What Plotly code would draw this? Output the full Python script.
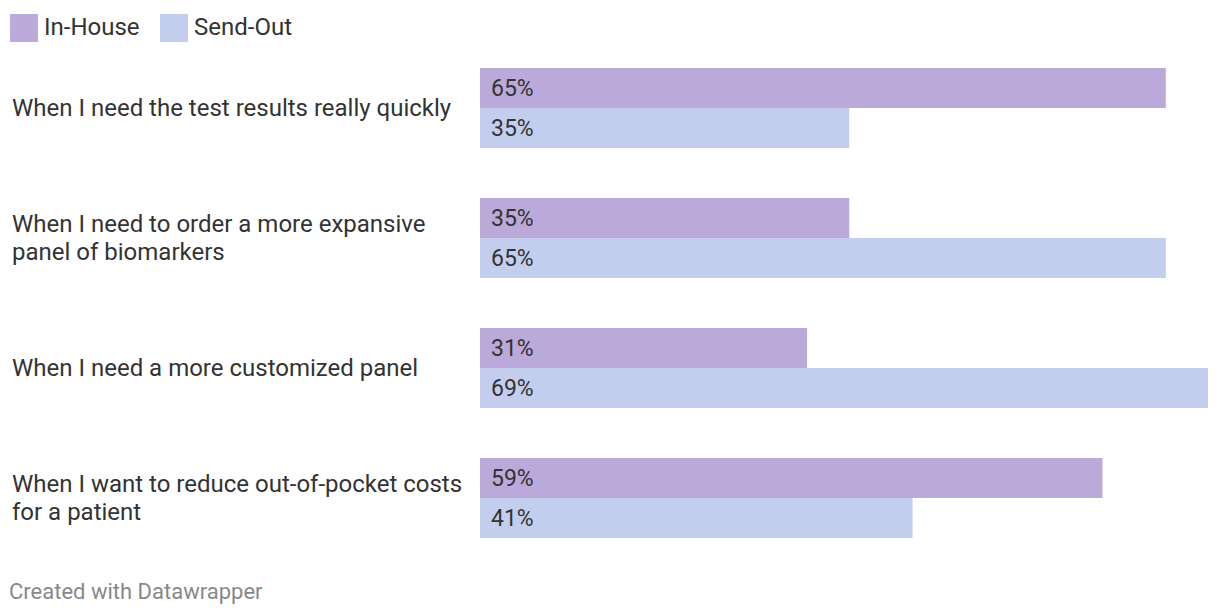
import plotly.graph_objects as go

categories = [
    "When I need the test results really quickly",
    "When I need to order a more expansive<br>panel of biomarkers",
    "When I need a more customized panel",
    "When I want to reduce out-of-pocket costs<br>for a patient",
]
in_house = [65, 35, 31, 59]
send_out = [35, 65, 69, 41]
series_names = ["In-House", "Send-Out"]
colors = ["#bba9d9", "#c3ceee"]

W, H = 1220, 616
L, R, T, B = 480, 12, 43, 53
FONT = "Roboto, sans-serif"
FS_LABEL = 24
FS_VAL = 23
FS_LEG = 24
LINE_H = 28

fig = go.Figure()
ys = list(range(len(categories)))
for name, vals, col in zip(series_names, [in_house, send_out], colors):
    fig.add_trace(go.Bar(
        y=ys, x=vals, name=name, orientation="h",
        marker=dict(color=col, line=dict(width=0)),
        showlegend=False, hoverinfo="skip",
    ))

pw = W - L - R
ph = H - T - B
def px(x):
    return (x - L) / pw
def py(y):
    return (H - B - y) / ph

annotations = []
for i, cat in enumerate(categories):
    lines = cat.split("<br>")
    n = len(lines)
    for j, line in enumerate(lines):
        shift = ((n - 1) / 2 - j) * LINE_H
        annotations.append(dict(
            x=px(10), xref="paper", y=i, yref="y", yshift=shift,
            text=line, showarrow=False, xanchor="left", yanchor="middle", align="left",
            font=dict(family=FONT, size=FS_LABEL, color="#333333"),
        ))
    for vals, shift in [(in_house, 20), (send_out, -20)]:
        annotations.append(dict(
            x=0, xref="x", y=i, yref="y", yshift=shift,
            text=f"{vals[i]}%", showarrow=False, xanchor="left", yanchor="middle",
            xshift=9, font=dict(family=FONT, size=FS_VAL, color="#333333"),
        ))

shapes = []
legend_x = [10, 160]
for lx, name, col in zip(legend_x, series_names, colors):
    shapes.append(dict(type="rect", xref="paper", yref="paper",
                       x0=px(lx), x1=px(lx + 28), y0=py(42), y1=py(14),
                       fillcolor=col, line=dict(width=0)))
    annotations.append(dict(x=px(lx + 32), xref="paper", y=py(27), yref="paper",
                            text=name, showarrow=False, xanchor="left", yanchor="middle",
                            font=dict(family=FONT, size=FS_LEG, color="#333333")))

annotations.append(dict(x=px(7), xref="paper", y=py(591), yref="paper",
                        text="Created with Datawrapper", showarrow=False,
                        xanchor="left", yanchor="middle",
                        font=dict(family=FONT, size=22, color="#888888")))

fig.update_layout(
    width=W, height=H,
    margin=dict(l=L, r=R, t=T, b=B, pad=0),
    paper_bgcolor="white", plot_bgcolor="white",
    barmode="group", bargap=50 / 130, bargroupgap=0,
    xaxis=dict(range=[0, 69], visible=False, fixedrange=True),
    yaxis=dict(range=[3.5, -0.5], visible=False, fixedrange=True),
    shapes=shapes, annotations=annotations,
    font=dict(family=FONT),
)

fig.write_html("out.html", config={"displayModeBar": False},
               post_script="document.body.style.margin='0';document.body.style.padding='0';")
